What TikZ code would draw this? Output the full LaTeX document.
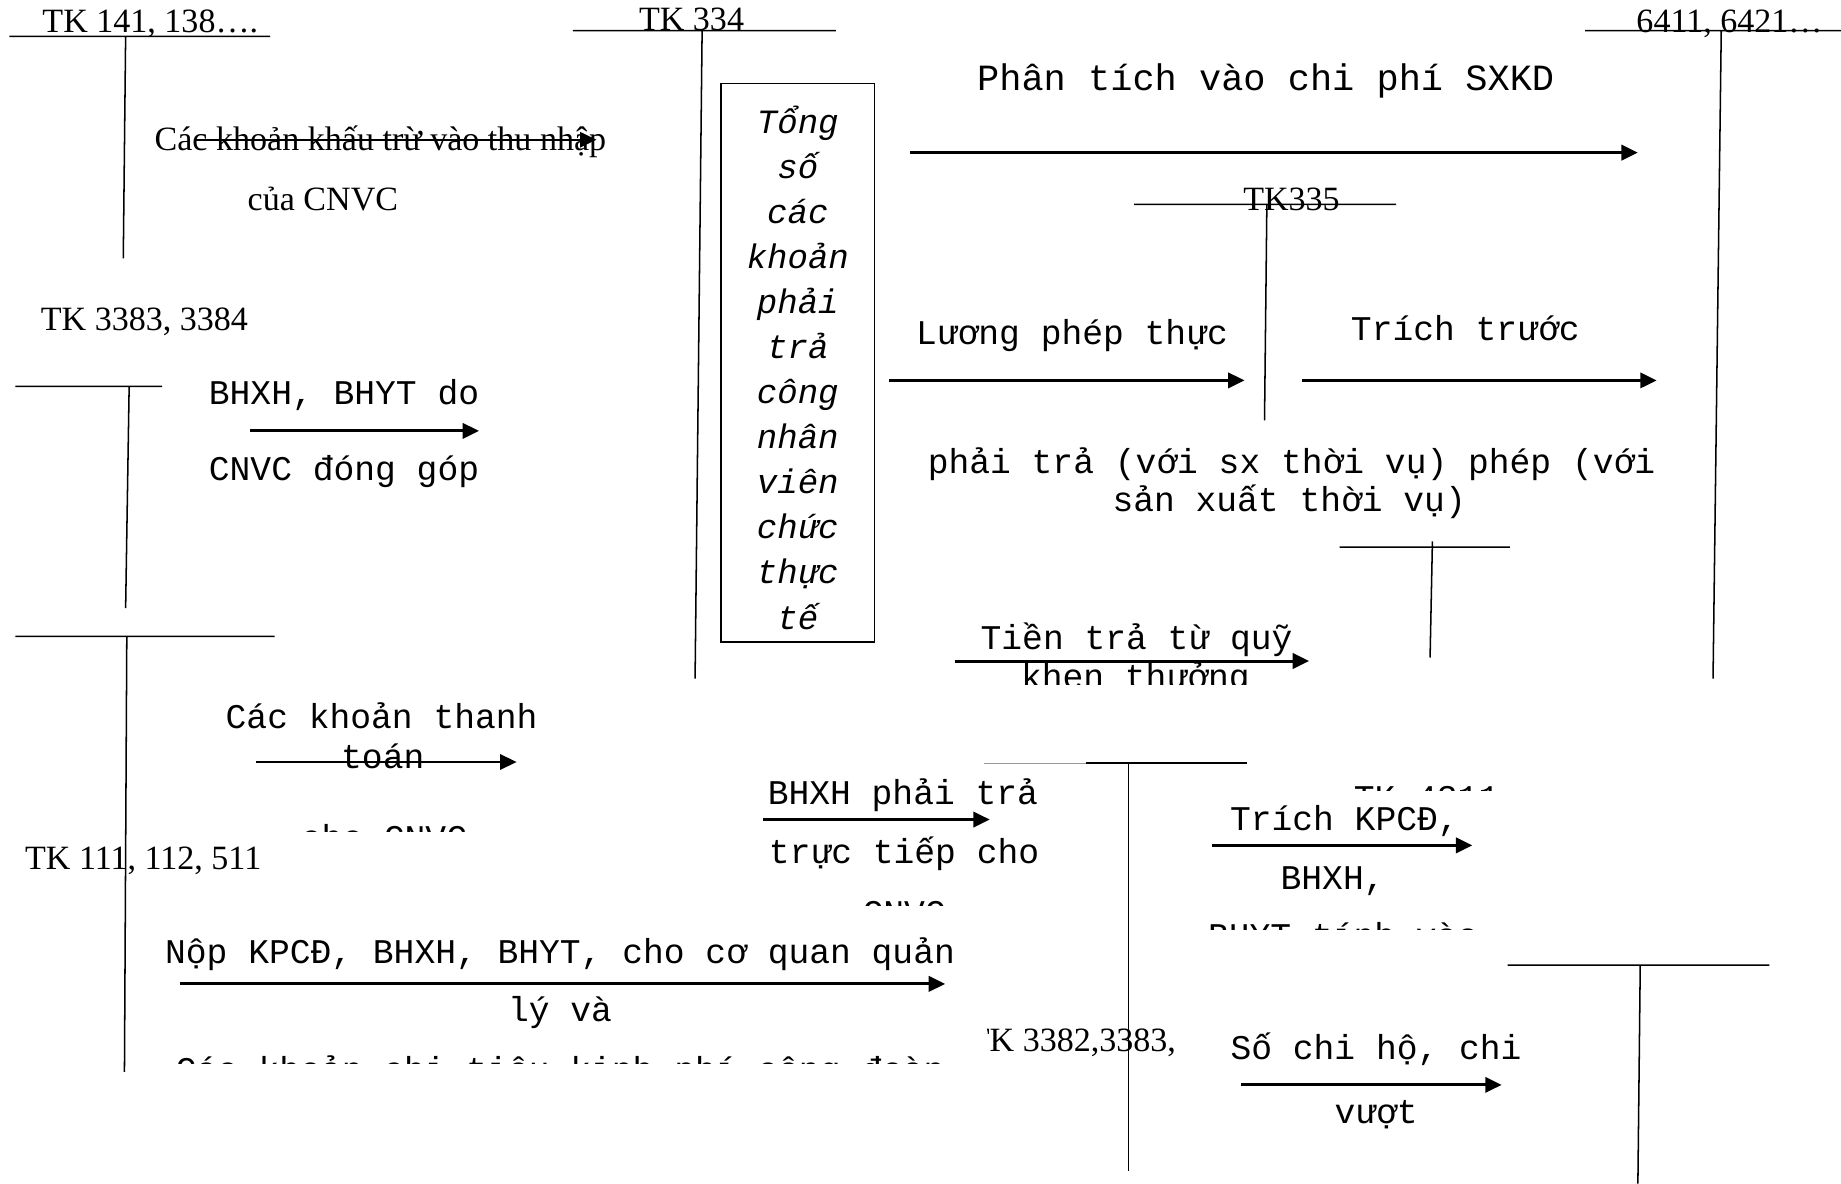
\documentclass[tikz,border=0pt]{standalone}
\usepackage{fontspec}
\setmainfont{Liberation Serif}
\setmonofont{Liberation Mono}
\usetikzlibrary{arrows.meta}

\begin{document}
\begin{tikzpicture}[x=1pt, y=-1pt,
  tk/.style={inner sep=0pt, anchor=mid, yshift=-7pt, font=\fontsize{29}{33}\selectfont},
  lb/.style={inner sep=0pt, anchor=mid, yshift=-8pt, font=\fontsize{29.5}{34}\selectfont\ttfamily},
  tline/.style={line width=1.3pt},
  a/.style={-{Triangle[length=14pt, width=13pt]}, line width=2.6pt}]
\useasboundingbox (0,0) rectangle (1568,1008);

% T-accounts
\draw[tline] (8,31) -- (230,31) (107,31) -- (105,220);
\draw[tline] (488,26) -- (712,26) (598,26) -- (592,578);
\draw[tline] (1350,26) -- (1568,26) (1466,26) -- (1459,578);
\draw[tline] (966,174) -- (1189,174) (1079,174) -- (1077,358);
\draw[tline] (13,329) -- (138,329) (110,329) -- (107,518);
\draw[tline] (13,542) -- (234,542) (108,542) -- (106,913);
\draw[tline] (1141,466) -- (1286,466) (1220,461) -- (1218,560);
\draw[line width=0.8pt, black!40] (838,650) -- (925,650);
\draw[tline] (925,650) -- (1062,650) (961,650) -- (961,997);
\draw[tline] (1284,822) -- (1507,822) (1397,822) -- (1395,1008);

% account names
\node[tk] (tk141) at (128,18) {TK 141, 138….};
\node[tk] (tk334) at (589,17) {TK 334};
\node[tk] (tk641) at (1473,18) {6411, 6421…};
\node[tk] (tk335) at (1100,170) {TK335};
\node[tk] (tk3383) at (123,272) {TK 3383, 3384};
\node[tk] (tk111) at (122,731) {TK 111, 112, 511};
\begin{scope}
  \clip (841,860) rectangle (1005,910);
  \node[tk, anchor=mid west] (tk3382) at (825,886) {TK 3382,3383, 3384};
\end{scope}
\begin{scope}
  \clip (1140,650) rectangle (1290,673);
  \node[lb] (tk4311) at (1215,679) {TK 4311};
\end{scope}

% box
\node[draw, line width=1.3pt, minimum width=131pt, minimum height=476pt, inner sep=0pt] (tong) at (679.5,309) {};
\node[inner sep=0pt, align=center, font=\fontsize{29}{38.4}\selectfont\ttfamily\itshape] (tongtxt) at (679.5,313)
  {Tổng\\số\\các\\khoản\\phải\\trả\\công\\nhân\\viên\\chức\\thực\\tế};

% labels
\node[tk] (khau) at (324,119) {Các khoản khấu trừ vào thu nhập};
\node[tk] (khau2) at (275,170) {của CNVC};
\node[lb, font=\fontsize{31.5}{36}\selectfont\ttfamily] (phan) at (1078,67) {Phân tích vào chi phí SXKD};
\node[lb] (bh1) at (293,334) {BHXH, BHYT do};
\node[lb] (bh2) at (293,399) {CNVC đóng góp};
\node[lb] (luong) at (913,283) {Lương phép thực};
\node[lb] (trich) at (1248,280) {Trích trước};
\node[lb] (phai) at (1100,393) {phải trả (với sx thời vụ) phép (với};
\node[lb] (sanx) at (1098,425) {sản xuất thời vụ)};
\node[lb] (tien) at (968,543) {Tiền trả từ quỹ};
\begin{scope}
  \clip (800,555) rectangle (1130,583);
  \node[lb] (khen) at (967,576) {khen thưởng};
\end{scope}
\node[lb] (ckt) at (325,610) {Các khoản thanh};
\node[lb] (toan) at (326,644) {toán};
\begin{scope}
  \clip (240,690) rectangle (420,708);
  \node[lb] (cho) at (327,713) {cho CNVC};
\end{scope}
\node[lb] (bhxh) at (769,675) {BHXH phải trả};
\node[lb] (truc) at (770,725) {trực tiếp cho};
\begin{scope}
  \clip (720,755) rectangle (820,771);
  \node[lb] (cnvc) at (770,777) {CNVC};
\end{scope}
\node[lb] (kpcd) at (1145,697) {Trích KPCĐ,};
\node[lb] (kpcd2) at (1135,747) {BHXH,};
\begin{scope}
  \clip (1010,775) rectangle (1280,792);
  \node[lb] (kpcd3) at (1144,797) {BHYT tính vào};
\end{scope}
\node[lb] (nop) at (477,810) {Nộp KPCĐ, BHXH, BHYT, cho cơ quan quản};
\node[lb] (nop2) at (477,860) {lý và};
\begin{scope}
  \clip (130,885) rectangle (830,906);
  \node[lb] (nop3) at (477,911) {Các khoản chi tiêu kinh phí công đoàn};
\end{scope}
\node[lb] (sochi) at (1172,892) {Số chi hộ, chi};
\node[lb] (vuot) at (1172,947) {vượt};

% arrow ends
\coordinate (k1) at (166,119);  \coordinate (k2) at (508,119);
\coordinate (p1) at (775,130);  \coordinate (p2) at (1395,130);
\coordinate (b1) at (213,367);  \coordinate (b2) at (408,367);
\coordinate (l1) at (757,324);  \coordinate (l2) at (1060,324);
\coordinate (t1) at (1109,324); \coordinate (t2) at (1411,324);
\coordinate (q1) at (813,563);  \coordinate (q2) at (1115,563);
\coordinate (c1) at (218,649);  \coordinate (c2) at (440,649);
\coordinate (h1) at (650,698);  \coordinate (h2) at (843,698);
\coordinate (d1) at (1032,720); \coordinate (d2) at (1254,720);
\coordinate (n1) at (153,838);  \coordinate (n2) at (805,838);
\coordinate (s1) at (1057,924); \coordinate (s2) at (1279,924);

\draw[a, line width=1.8pt] (k1) -- (k2);
\draw[a] (p1) -- (p2);
\draw[a] (b1) -- (b2);
\draw[a] (l1) -- (l2);
\draw[a] (t1) -- (t2);
\draw[a] (q1) -- (q2);
\draw[a, line width=1.8pt] (c1) -- (c2);
\draw[a] (h1) -- (h2);
\draw[a] (d1) -- (d2);
\draw[a] (n1) -- (n2);
\draw[a] (s1) -- (s2);
\end{tikzpicture}
\end{document}
